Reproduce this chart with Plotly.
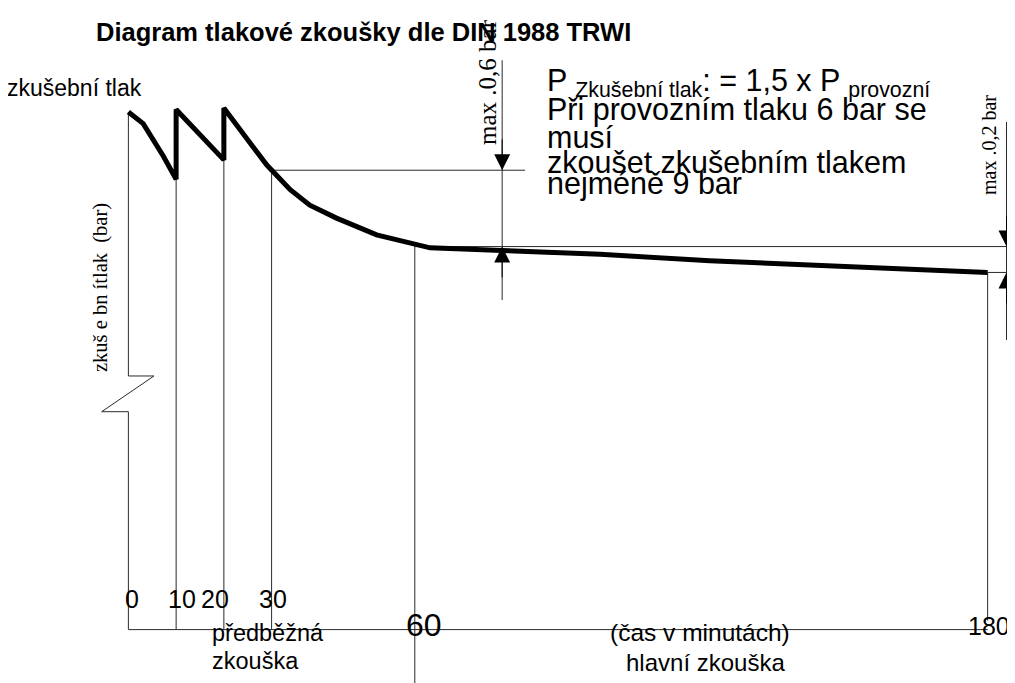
import plotly.graph_objects as go

# ---------------- data ----------------
# pressure curve (time in minutes, pressure in bar)
time_min = [0, 3.1, 7.3, 10, 10, 15, 20, 20, 22.7, 25.5, 29, 30, 33.9, 38, 43.6,
            52, 59, 63.2, 78.2, 98.8, 121.8, 153.3, 171.4, 180]
pressure_bar = [9.00, 8.91, 8.66, 8.48, 9.02, 8.82, 8.63, 9.03, 8.89, 8.76, 8.59,
                8.55, 8.40, 8.28, 8.18, 8.05, 7.99, 7.95, 7.93, 7.90, 7.85, 7.80,
                7.78, 7.76]

# marked times and the curve level at which their guide lines start
mark_times = [0, 10, 20, 30, 60, 180]
mark_top_bar = [9.00, 8.48, 8.63, 8.55, 7.96, 7.76]
tick_labels = ["0", "10", "20", "30", "60", "180"]

base_bar = 5.0          # level of the time axis (broken pressure axis)
level_30 = 8.55         # pressure after pre-test (30 min)
level_60 = 7.96         # pressure at start of main test (60 min)
level_180 = 7.76        # pressure at end of main test (180 min)

# ---------------- layout constants ----------------
PAGE_W, PAGE_H = 1015, 683
OFF = 8                              # default page body margin
W, H = PAGE_W - OFF, PAGE_H - OFF    # figure size that fits the window
X_RANGE = [-25.22, 185.73]
Y_RANGE = [4.5873, 9.8037]
THIN = dict(color="#2a2a2a", width=1)
SANS = "Liberation Sans, Arial, sans-serif"
SERIF = "Liberation Serif, Times New Roman, serif"


def px(x):
    return (x - OFF) / W


def py(y):
    return 1 - (y - OFF) / H


fig = go.Figure()


def line(xs, ys, style=THIN):
    fig.add_trace(go.Scatter(x=xs, y=ys, mode="lines", line=style,
                             hoverinfo="skip", showlegend=False))


# time axis
line([mark_times[0], mark_times[-1]], [base_bar, base_bar])

# guide lines from the curve down to the axis
for t, top in zip(mark_times, mark_top_bar):
    if t == 0:
        # broken pressure axis
        line([t, t, t + 5.36, t - 5.59, t, t],
             [top, 6.96, 6.96, 6.684, 6.684, base_bar])
    elif t == 60:
        line([t, t], [top, Y_RANGE[0]])
    elif t == 180:
        line([t, t], [top, base_bar + 0.07])
    else:
        line([t, t], [top, base_bar])

# horizontal reference levels
line([30, 83.1], [level_30, level_30])
line([60, X_RANGE[1]], [level_60, level_60])
line([180, X_RANGE[1]], [level_180, level_180])

# dimension lines
DIM_L = 78.3
DIM_R = 183.95
line([DIM_L, DIM_L], [9.40, 7.547])
line([DIM_R, DIM_R], [8.923, 7.238])

# pressure curve
line(time_min, pressure_bar, dict(color="black", width=5))


def arrow(x, tip, tail):
    fig.add_annotation(x=x, y=tip, ax=x, ay=tail, xref="x", yref="y",
                       axref="x", ayref="y", text="", showarrow=True,
                       arrowhead=2, arrowsize=3.2, arrowwidth=1,
                       arrowcolor="black", standoff=0)


arrow(DIM_L, level_30, level_30 + 0.25)
arrow(DIM_L, level_60, level_60 - 0.25)
arrow(DIM_R, level_60, level_60 + 0.25)
arrow(DIM_R, level_180, level_180 - 0.25)


def text(s, x, y, size, family=SANS, xanchor="left", angle=0, bold=False):
    if bold:
        s = "<b>" + s + "</b>"
    fig.add_annotation(x=px(x), y=py(y), xref="paper", yref="paper", text=s,
                       showarrow=False, xanchor=xanchor, yanchor="middle",
                       textangle=angle, borderpad=0, borderwidth=0,
                       font=dict(family=family, size=size, color="black"))


text("Diagram tlakové zkoušky dle DIN 1988 TRWI", 96, 32, 25.5, bold=True)
text("zkušební tlak", 7, 88, 23)

text("P <sub>Zkušební tlak</sub>: = 1,5 x P <sub>provozní</sub>", 547, 82, 30.5)
text("Při provozním tlaku 6 bar se", 547, 110, 30.5)
text("musí", 547, 137, 30.5)
text("zkoušet zkušebním tlakem", 547, 161.5, 30.5)
text("nejméně 9 bar", 547, 183.5, 30.5)

text("max .0,6 bar", 487, 82, 25, family=SERIF, xanchor="center", angle=-90)
text("max .0,2 bar", 989, 145, 20, family=SERIF, xanchor="center", angle=-90)
text("zkuš e bn ítlak\u00a0\u00a0(bar)", 101, 288, 20.5, family=SERIF,
     xanchor="center", angle=-90)

# tick labels
tick_shift = [3.6, 5.6, -8.9, 0.9, 9.2, 1.4]
tick_y = [599, 599, 599, 599, 625, 626]
tick_size = [25, 25, 25, 25, 32, 25]
for t, lab, sh, yy, sz in zip(mark_times, tick_labels, tick_shift, tick_y, tick_size):
    fig.add_annotation(x=t, y=py(yy), xref="x", yref="paper", text=lab,
                       showarrow=False, xanchor="center", yanchor="middle",
                       xshift=sh, borderpad=0,
                       font=dict(family=SANS, size=sz, color="black"))

text("předběžná", 212, 633, 23.5)
text("zkouška", 212, 661, 23.5)
text("(čas v minutách)", 700, 632, 24.5, xanchor="center")
text("hlavní zkouška", 705, 662, 24, xanchor="center")

fig.update_layout(
    width=W, height=H,
    margin=dict(l=0, r=0, t=0, b=0),
    paper_bgcolor="white", plot_bgcolor="white",
    showlegend=False, hovermode=False,
    xaxis=dict(range=X_RANGE, visible=False, fixedrange=True),
    yaxis=dict(range=Y_RANGE, visible=False, fixedrange=True),
)

fig.write_html("out.html")
